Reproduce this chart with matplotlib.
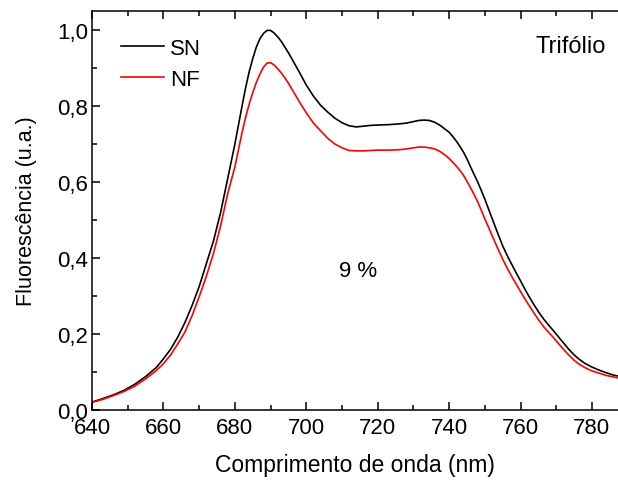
import numpy as np
import matplotlib.pyplot as plt
from matplotlib.ticker import MultipleLocator

plt.rcParams['font.family'] = ['Liberation Sans', 'DejaVu Sans']

# wavelength (nm) and fluorescence (u.a.)
wl = [640, 643, 646, 649, 652, 655, 658, 660, 662, 664,
      666, 668, 670, 672, 674, 676, 678, 680, 681, 682,
      683, 684, 685, 686, 687, 688, 689, 690, 691, 692,
      693, 694, 695, 696.5, 698, 700, 702, 704, 706, 708,
      710, 712, 714, 716, 718, 720, 723, 726, 728, 730,
      731.5, 733, 734.5, 736, 737.5, 739, 740, 741, 742, 743,
      744, 745, 746, 747, 748, 749, 750, 751, 752, 753.5,
      755, 756.5, 758, 759, 760, 761, 762, 763.5, 765, 766.5,
      768, 769, 770, 771, 772, 773.5, 775, 776.5, 778, 779,
      780, 782, 784, 786, 788]

sn = [0.021, 0.030, 0.040, 0.052, 0.068, 0.088, 0.112, 0.135, 0.160, 0.192,
      0.230, 0.275, 0.325, 0.385, 0.445, 0.520, 0.610, 0.700, 0.750, 0.800,
      0.848, 0.890, 0.925, 0.955, 0.977, 0.991, 0.999, 0.999, 0.992, 0.982,
      0.970, 0.955, 0.940, 0.915, 0.890, 0.855, 0.826, 0.802, 0.784, 0.768,
      0.756, 0.748, 0.745, 0.747, 0.749, 0.750, 0.751, 0.753, 0.755, 0.759,
      0.762, 0.763, 0.762, 0.757, 0.749, 0.738, 0.731, 0.720, 0.708, 0.694,
      0.679, 0.661, 0.640, 0.620, 0.600, 0.578, 0.555, 0.530, 0.505, 0.468,
      0.432, 0.402, 0.375, 0.357, 0.340, 0.322, 0.305, 0.281, 0.259, 0.239,
      0.222, 0.211, 0.200, 0.188, 0.177, 0.160, 0.145, 0.133, 0.123, 0.118,
      0.113, 0.105, 0.098, 0.092, 0.088]

nf = [0.020, 0.028, 0.038, 0.049, 0.063, 0.082, 0.104, 0.122, 0.145, 0.174,
      0.205, 0.248, 0.298, 0.352, 0.412, 0.485, 0.570, 0.640, 0.685, 0.730,
      0.770, 0.805, 0.835, 0.862, 0.884, 0.902, 0.913, 0.914, 0.908, 0.898,
      0.887, 0.874, 0.860, 0.836, 0.812, 0.782, 0.755, 0.735, 0.715, 0.700,
      0.690, 0.683, 0.682, 0.682, 0.683, 0.684, 0.684, 0.685, 0.687, 0.690,
      0.692, 0.692, 0.690, 0.687, 0.680, 0.670, 0.662, 0.652, 0.642, 0.631,
      0.618, 0.602, 0.585, 0.567, 0.548, 0.526, 0.503, 0.482, 0.460, 0.428,
      0.397, 0.369, 0.344, 0.328, 0.312, 0.296, 0.281, 0.259, 0.238, 0.219,
      0.203, 0.193, 0.182, 0.171, 0.160, 0.145, 0.131, 0.120, 0.112, 0.107,
      0.103, 0.097, 0.091, 0.087, 0.083]

yticks = [0.0, 0.2, 0.4, 0.6, 0.8, 1.0]
ytick_labels = ['0,0', '0,2', '0,4', '0,6', '0,8', '1,0']
xticks = [640, 660, 680, 700, 720, 740, 760, 780]

fig = plt.figure(figsize=(6.18, 4.81), dpi=100)
ax = fig.add_axes([0.149, 0.1455, 0.851, 0.8295])

ax.plot(wl, sn, color='black', lw=1.2, label='SN', solid_joinstyle='round')
ax.plot(wl, nf, color='red', lw=1.2, label='NF', solid_joinstyle='round')

ax.set_xlim(640, 787.3)
ax.set_ylim(0, 1.05)
ax.set_xticks(xticks)
ax.set_yticks(yticks)
ax.set_yticklabels(ytick_labels)
ax.xaxis.set_minor_locator(MultipleLocator(10))
ax.yaxis.set_minor_locator(MultipleLocator(0.1))
ax.tick_params(which='both', direction='in', top=True, right=False,
               labelsize=16, width=1.1)
ax.tick_params(which='major', length=6)
ax.tick_params(which='minor', length=3.5)
ax.tick_params(axis='x', pad=5)
ax.tick_params(axis='y', pad=3)
for s in ['left', 'bottom', 'top']:
    ax.spines[s].set_linewidth(1.1)
ax.spines['right'].set_visible(False)

ax.set_xlabel('Comprimento de onda (nm)', fontsize=16.5, labelpad=11)
ax.set_ylabel('Fluorescência (u.a.)', fontsize=15.5, labelpad=14)

ax.legend(loc='upper left', bbox_to_anchor=(-0.012, 1.022), frameon=False,
          fontsize=16, handlelength=1.9, handletextpad=0.3,
          labelspacing=0.45, borderaxespad=1.2)

ax.text(764.3, 0.958, 'Trifólio', fontsize=17, va='center', ha='left')
ax.text(714.5, 0.366, '9 %', fontsize=16, va='center', ha='center')

fig.savefig('out.png', dpi=100)
